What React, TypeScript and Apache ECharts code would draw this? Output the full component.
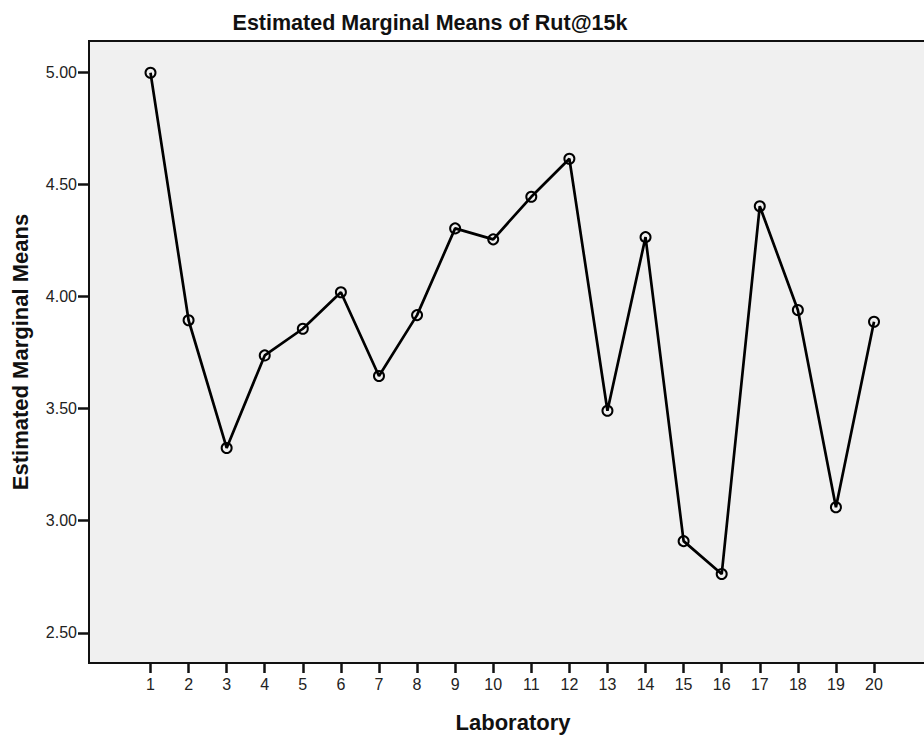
import React, { useEffect, useRef } from "react";
import * as echarts from "echarts";

const laboratories = [1, 2, 3, 4, 5, 6, 7, 8, 9, 10, 11, 12, 13, 14, 15, 16, 17, 18, 19, 20];
const marginalMeans = [
  5.0, 3.895, 3.325, 3.738, 3.857, 4.02, 3.646, 3.918, 4.305, 4.256,
  4.446, 4.616, 3.491, 4.266, 2.909, 2.762, 4.404, 3.941, 3.06, 3.888,
];
const yTicks = [2.5, 3.0, 3.5, 4.0, 4.5, 5.0];
const chartTitle = "Estimated Marginal Means of Rut@15k";
const xName = "Laboratory";
const yName = "Estimated Marginal Means";

export default function App() {
  const ref = useRef<HTMLDivElement>(null);
  useEffect(() => {
    if (!ref.current) return;
    const chart = echarts.init(ref.current, null, { renderer: "svg" });
    const font = "Arial, 'Liberation Sans', sans-serif";
    chart.setOption({
      animation: false,
      backgroundColor: "#ffffff",
      grid: {
        left: 89,
        top: 41,
        right: 1,
        bottom: 74,
        show: true,
        backgroundColor: "#f0f0f0",
        borderColor: "#111",
        borderWidth: 2,
      },
      graphic: [
        {
          type: "text",
          x: 430,
          y: 23,
          style: {
            text: chartTitle,
            font: `bold 21.5px ${font}`,
            fill: "#111",
            align: "center",
            verticalAlign: "middle",
          },
        },
        {
          type: "text",
          x: 513,
          y: 722,
          style: {
            text: xName,
            font: `bold 22px ${font}`,
            fill: "#111",
            align: "center",
            verticalAlign: "middle",
          },
        },
        {
          type: "text",
          x: 20,
          y: 352,
          rotation: Math.PI / 2,
          style: {
            text: yName,
            font: `bold 22px ${font}`,
            fill: "#111",
            align: "center",
            verticalAlign: "middle",
          },
        },
      ],
      xAxis: {
        type: "value",
        min: -0.615,
        max: 21.444,
        splitLine: { show: false },
        axisLine: { show: true, onZero: false, lineStyle: { color: "#111", width: 2 } },
        axisTick: {
          show: true,
          length: 10,
          lineStyle: { color: "#111", width: 2.5 },
          customValues: laboratories,
        },
        axisLabel: {
          customValues: laboratories,
          margin: 13,
          fontSize: 16,
          fontFamily: font,
          color: "#222",
          formatter: (v: number) => String(v),
        },
      },
      yAxis: {
        type: "value",
        min: 2.365,
        max: 5.1415,
        splitLine: { show: false },
        axisLine: { show: true, onZero: false, lineStyle: { color: "#111", width: 2 } },
        axisTick: {
          show: true,
          length: 11,
          lineStyle: { color: "#111", width: 2.5 },
          customValues: yTicks,
        },
        axisLabel: {
          customValues: yTicks,
          margin: 12,
          fontSize: 16,
          fontFamily: font,
          color: "#222",
          formatter: (v: number) => v.toFixed(2),
        },
      },
      series: [
        {
          type: "line",
          data: laboratories.map((l, i) => [l, marginalMeans[i]]),
          symbol: "circle",
          symbolSize: 10,
          showSymbol: true,
          lineStyle: { color: "#000", width: 2.7 },
          itemStyle: { color: "rgba(0,0,0,0)", borderColor: "#000", borderWidth: 2 },
        },
      ],
    });
    return () => chart.dispose();
  }, []);
  return (
    <div
      ref={ref}
      style={{ position: "fixed", left: 0, top: 0, width: 930, height: 737 }}
    />
  );
}
